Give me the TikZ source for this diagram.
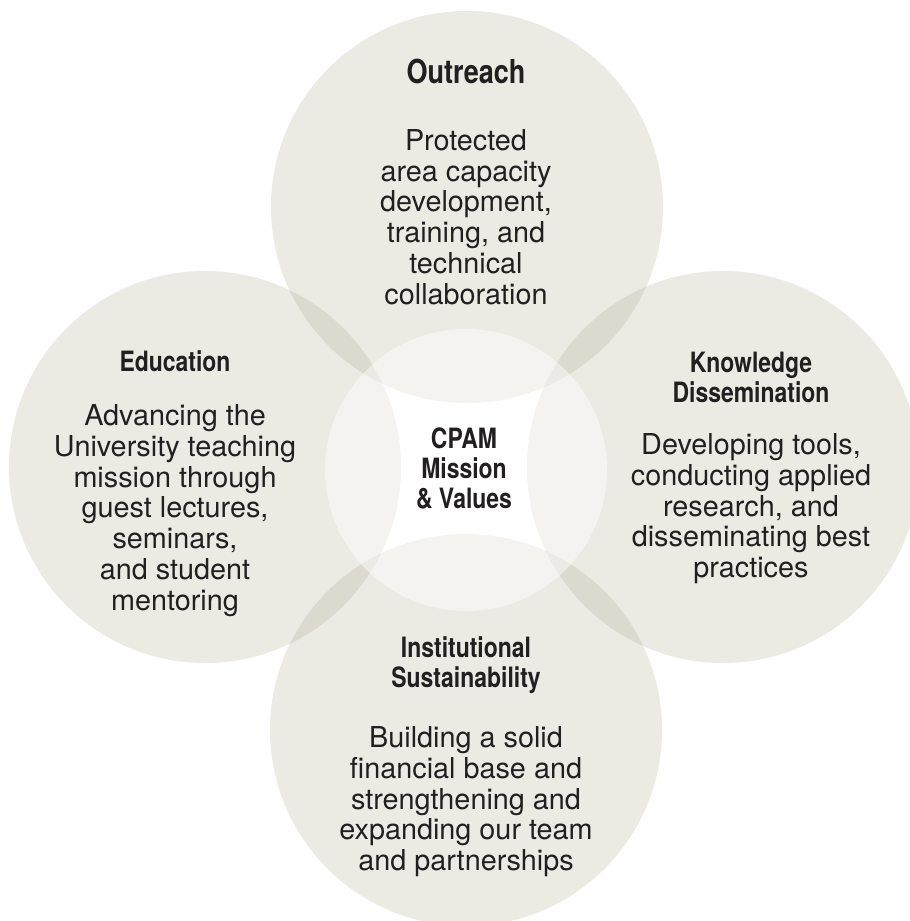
\documentclass[tikz,border=0pt]{standalone}
\usepackage{fontspec}
\setmainfont{TeX Gyre Heros}
\newfontfamily\condfont{TeX Gyre Heros}[FakeStretch=0.82]
\usepackage{xcolor}
\usepackage{tikz}
\definecolor{sand}{RGB}{178,172,145}
\definecolor{ink}{RGB}{35,31,32}

\begin{document}
\begin{tikzpicture}[x=0.5pt, y=-0.5pt,
            petal/.style={circle, fill=sand, fill opacity=0.25, minimum size=196pt, inner sep=0pt},
            hub/.style={circle, fill=white, fill opacity=0.45, minimum size=141pt, inner sep=0pt},
            head/.style={anchor=north, text=ink, align=center, inner sep=0pt, font=\condfont\bfseries\fontsize{14}{15}\selectfont},
            body/.style={anchor=north, text=ink, align=center, inner sep=0pt, font=\fontsize{14.4}{15.4}\selectfont}]
            \useasboundingbox (0, 0) rectangle (910, 921);
            \fill[white] (0, 0) rectangle (910, 921);
            \clip (0, 0) rectangle (910, 921);

            \node[petal] at (467, 207)   (outreach) {};
            \node[petal] at (205, 467)   (education) {};
            \node[petal] at (723, 467)   (knowledge) {};
            \node[petal] at (466, 730)   (sustain) {};
            \node[hub]   at (466, 470)   (core) {};

            \node[head, font=\condfont\bfseries\fontsize{16.5}{18}\selectfont] at (466, 59) (outreach-t) {Outreach};
            \node[body] at (466, 129)   (outreach-b) {Protected\\area capacity\\development,\\training, and\\technical\\collaboration};

            \node[head] at (175, 350)   (education-t) {Education};
            \node[body] at (175, 404)   (education-b) {Advancing the\\University teaching\\mission through\\guest lectures,\\seminars,\\and student\\mentoring};

            \node[head] at (751, 352)   (knowledge-t) {Knowledge\\Dissemination};
            \node[body] at (751, 433)   (knowledge-b) {Developing tools,\\conducting applied\\research, and\\disseminating best\\practices};

            \node[head] at (466, 636)   (sustain-t) {Institutional\\Sustainability};
            \node[body] at (466, 726)   (sustain-b) {Building a solid\\financial base and\\strengthening and\\expanding our team\\and partnerships};

            \node[head] at (464, 427)   (core-t) {CPAM\\Mission\\\& Values};
        \end{tikzpicture}
\end{document}
